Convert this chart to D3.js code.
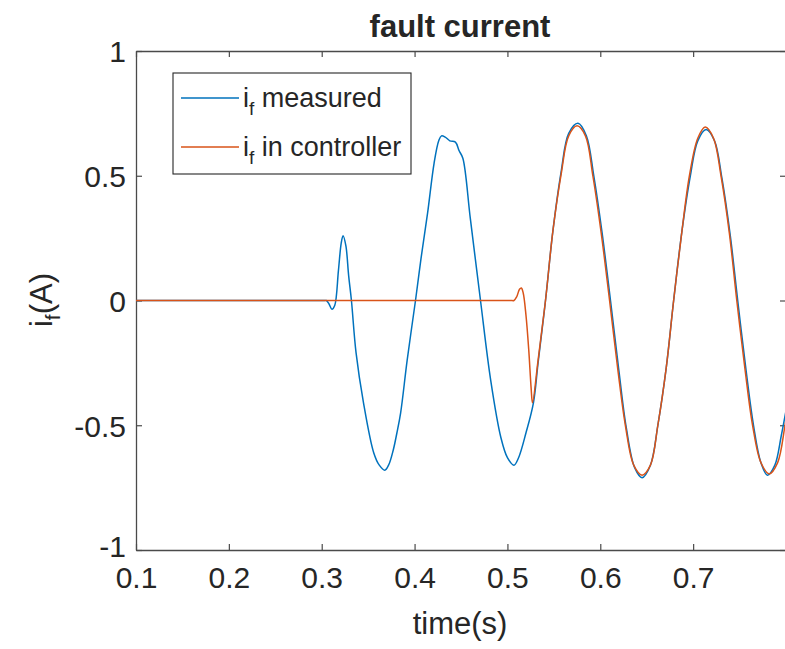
<!DOCTYPE html>
<html>
<head>
<meta charset="utf-8">
<script src="https://cdn.jsdelivr.net/npm/d3@7"></script>
<style>
  html, body { margin: 0; padding: 0; background: #fff; }
  svg { display: block; }
  text { font-family: "Liberation Sans", Arial, sans-serif; fill: #262626; }
</style>
</head>
<body>
<svg id="chart" width="785" height="649"></svg>
<script>
// ---- data ----
const xTicks = [0.1, 0.2, 0.3, 0.4, 0.5, 0.6, 0.7];
const yTicks = [-1, -0.5, 0, 0.5, 1];
const xTickLabels = ["0.1", "0.2", "0.3", "0.4", "0.5", "0.6", "0.7"];
const yTickLabels = ["-1", "-0.5", "0", "0.5", "1"];
const seriesNames = ["measured", "in controller"];

const measuredT = [0.100, 0.150, 0.200, 0.250, 0.300, 0.303, 0.305, 0.308, 0.311, 0.314, 0.318, 0.321, 0.323, 0.326, 0.329, 0.332, 0.337, 0.345, 0.356, 0.362, 0.368, 0.372, 0.377, 0.381, 0.385, 0.392, 0.401, 0.407, 0.414, 0.421, 0.426, 0.429, 0.433, 0.438, 0.444, 0.448, 0.452, 0.460, 0.471, 0.482, 0.493, 0.500, 0.507, 0.512, 0.520, 0.528, 0.533, 0.541, 0.549, 0.558, 0.566, 0.576, 0.585, 0.593, 0.602, 0.611, 0.620, 0.628, 0.637, 0.645, 0.654, 0.662, 0.671, 0.679, 0.688, 0.697, 0.705, 0.714, 0.723, 0.731, 0.740, 0.748, 0.757, 0.765, 0.773, 0.780, 0.788, 0.795, 0.803];
const measuredI = [0, 0, 0, 0, 0, 0, 0, -0.015, -0.035, -0.02, 0.12, 0.23, 0.26, 0.22, 0.10, 0, -0.21, -0.41, -0.61, -0.66, -0.68, -0.66, -0.60, -0.53, -0.45, -0.24, 0, 0.17, 0.35, 0.55, 0.64, 0.66, 0.655, 0.64, 0.635, 0.60, 0.57, 0.33, 0, -0.32, -0.55, -0.63, -0.66, -0.63, -0.53, -0.41, -0.25, 0, 0.28, 0.52, 0.67, 0.71, 0.66, 0.50, 0.27, 0, -0.28, -0.51, -0.67, -0.71, -0.66, -0.50, -0.27, 0, 0.28, 0.50, 0.64, 0.685, 0.64, 0.49, 0.26, 0, -0.28, -0.50, -0.65, -0.70, -0.66, -0.54, -0.38];

const controllerT = [0.100, 0.150, 0.200, 0.250, 0.300, 0.350, 0.400, 0.450, 0.500, 0.504, 0.507, 0.510, 0.513, 0.515, 0.517, 0.520, 0.523, 0.5255, 0.527, 0.533, 0.541, 0.549, 0.558, 0.566, 0.575, 0.584, 0.592, 0.601, 0.610, 0.619, 0.627, 0.636, 0.645, 0.654, 0.662, 0.671, 0.679, 0.688, 0.696, 0.705, 0.713, 0.722, 0.730, 0.739, 0.747, 0.756, 0.764, 0.773, 0.782, 0.791, 0.799, 0.803];
const controllerI = [0, 0, 0, 0, 0, 0, 0, 0, 0, 0, 0, 0.015, 0.045, 0.05, 0.03, -0.06, -0.20, -0.35, -0.41, -0.24, 0, 0.28, 0.51, 0.66, 0.70, 0.66, 0.50, 0.27, 0, -0.28, -0.50, -0.66, -0.70, -0.66, -0.50, -0.27, 0, 0.28, 0.50, 0.65, 0.695, 0.65, 0.50, 0.27, 0, -0.28, -0.50, -0.65, -0.695, -0.65, -0.50, -0.42];

// ---- layout ----
const svg = d3.select("#chart");
const L = 136, R = 786, T = 51, B = 550;
const x = d3.scaleLinear().domain([0.1, 0.8]).range([L, R]);
const y = d3.scaleLinear().domain([-1, 1]).range([B, T]);
const axisColor = "#4a4a4a";
const blue = "#0072BD", orange = "#D95319";

// clip
svg.append("clipPath").attr("id", "clip")
  .append("rect").attr("x", L).attr("y", T).attr("width", R - L).attr("height", B - T);

// axes with inward ticks
const tickLen = 6;
const gx = svg.append("g").attr("transform", `translate(0,${B})`)
  .call(d3.axisBottom(x).tickValues(xTicks).tickSizeInner(-tickLen).tickSizeOuter(0).tickPadding(17)
    .tickFormat((d, i) => xTickLabels[i]));
const gxTop = svg.append("g").attr("transform", `translate(0,${T})`)
  .call(d3.axisTop(x).tickValues(xTicks).tickSizeInner(-tickLen).tickSizeOuter(0).tickFormat(""));
const gy = svg.append("g").attr("transform", `translate(${L},0)`)
  .call(d3.axisLeft(y).tickValues(yTicks).tickSizeInner(-tickLen).tickSizeOuter(0).tickPadding(10)
    .tickFormat((d, i) => yTickLabels[i]));
const gyR = svg.append("g").attr("transform", `translate(${R},0)`)
  .call(d3.axisRight(y).tickValues(yTicks).tickSizeInner(-tickLen).tickSizeOuter(0).tickFormat(""));

[gx, gxTop, gy, gyR].forEach(g => {
  g.select(".domain").attr("stroke", axisColor).attr("stroke-width", 1.3);
  g.selectAll(".tick line").attr("stroke", axisColor).attr("stroke-width", 1.2);
  g.selectAll(".tick text").attr("fill", "#262626").style("font-size", "30px")
    .style("font-family", "'Liberation Sans', Arial, sans-serif");
});
gx.selectAll(".tick text").attr("dy", "0.71em");
gy.selectAll(".tick text").attr("dy", "0.36em");
// the "-1" label sits slightly above its tick so it clears the x labels
gy.selectAll(".tick text").filter((d) => d === -1).attr("dy", "0.2em");

// lines
const line = d3.line().x(d => x(d[0])).y(d => y(d[1])).curve(d3.curveCatmullRom.alpha(0.5));
const measured = measuredT.map((t, i) => [t, measuredI[i]]);
const controller = controllerT.map((t, i) => [t, controllerI[i]]);
const plot = svg.append("g").attr("clip-path", "url(#clip)");
plot.append("path").datum(measured).attr("d", line)
  .attr("fill", "none").attr("stroke", blue).attr("stroke-width", 1.5).attr("stroke-linejoin", "round");
plot.append("path").datum(controller).attr("d", line)
  .attr("fill", "none").attr("stroke", orange).attr("stroke-width", 1.5).attr("stroke-linejoin", "round");

// title
svg.append("text").attr("x", (L + R) / 2 - 1).attr("y", 37).attr("text-anchor", "middle")
  .style("font-size", "31px").style("font-weight", "bold").attr("fill", "#000").text("fault current");

// x label
svg.append("text").attr("x", (L + R) / 2 - 1).attr("y", 634).attr("text-anchor", "middle")
  .style("font-size", "31px").text("time(s)");

// y label
const yl = svg.append("text").attr("transform", "translate(52,300) rotate(-90)").attr("text-anchor", "middle")
  .style("font-size", "31px");
yl.append("tspan").text("i");
yl.append("tspan").attr("dy", 8).style("font-size", "21px").text("f");
yl.append("tspan").attr("dy", -8).text("(A)");

// legend
const lg = svg.append("g");
lg.append("rect").attr("x", 173).attr("y", 73).attr("width", 238).attr("height", 101)
  .attr("fill", "#fff").attr("stroke", "#262626").attr("stroke-width", 1.1);
const rows = [{ name: seriesNames[0], color: blue, cy: 98 }, { name: seriesNames[1], color: orange, cy: 147 }];
rows.forEach(r => {
  lg.append("line").attr("x1", 181).attr("x2", 239).attr("y1", r.cy).attr("y2", r.cy)
    .attr("stroke", r.color).attr("stroke-width", 1.5);
  const t = lg.append("text").attr("x", 243).attr("y", r.cy + 9).style("font-size", "27px");
  t.append("tspan").text("i");
  t.append("tspan").attr("dy", 8).style("font-size", "19px").text("f");
  t.append("tspan").attr("dy", -8).text(" " + r.name);
});
</script>
</body>
</html>
